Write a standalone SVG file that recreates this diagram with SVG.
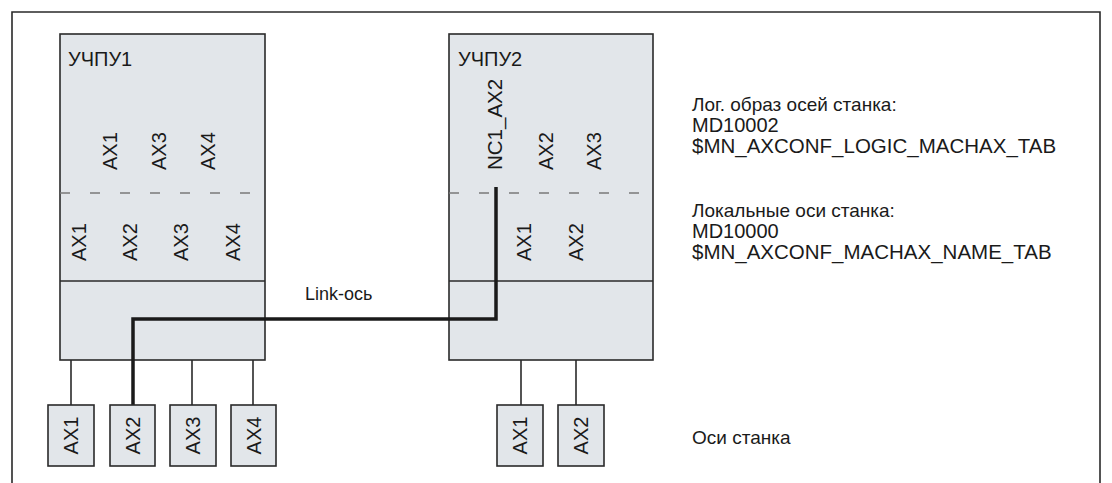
<svg xmlns="http://www.w3.org/2000/svg" width="1112" height="483" viewBox="0 0 1112 483">
<style>
text{font-family:"Liberation Sans",Arial,sans-serif;font-size:20px;fill:#1a1a1a}
.lat{font-size:20.5px}
.cyr{font-size:19px}
.box{fill:#e2e6ea;stroke:#2a2a2a;stroke-width:1.6}
.dash{stroke:#7a7a7a;stroke-width:1.5;stroke-dasharray:10 20;fill:none}
.thin{stroke:#2a2a2a;stroke-width:1.6;fill:none}
.thick{stroke:#1a1a1a;stroke-width:3.5;fill:none}
</style>
<rect width="1112" height="483" fill="#ffffff"/>
<path id="frame" d="M12,483 V12 H1100 V483" fill="none" stroke="#2a2a2a" stroke-width="1.6"/>

<g id="nc1">
<rect class="box" x="60" y="34" width="205" height="326"/>
<line class="thin" x1="60" y1="281" x2="265" y2="281"/>
<line class="dash" x1="60" y1="193" x2="265" y2="193"/>
<text x="68" y="66">УЧПУ1</text>
<text transform="translate(117,170) rotate(-90)">AX1</text>
<text transform="translate(166,170) rotate(-90)">AX3</text>
<text transform="translate(215,170) rotate(-90)">AX4</text>
<text transform="translate(86,261) rotate(-90)">AX1</text>
<text transform="translate(137,261) rotate(-90)">AX2</text>
<text transform="translate(188,261) rotate(-90)">AX3</text>
<text transform="translate(240,261) rotate(-90)">AX4</text>
</g>

<g id="nc2">
<rect class="box" x="449" y="34" width="204" height="326"/>
<line class="thin" x1="449" y1="281" x2="653" y2="281"/>
<line class="dash" x1="449" y1="193" x2="653" y2="193"/>
<text x="458" y="66">УЧПУ2</text>
<text class="lat" transform="translate(502,170) rotate(-90)">NC1_AX2</text>
<text transform="translate(553,170) rotate(-90)">AX2</text>
<text transform="translate(601,170) rotate(-90)">AX3</text>
<text transform="translate(531,261) rotate(-90)">AX1</text>
<text transform="translate(583,261) rotate(-90)">AX2</text>
</g>

<g id="connectors">
<line class="thin" x1="71" y1="360" x2="71" y2="405"/>
<line class="thin" x1="192" y1="360" x2="192" y2="405"/>
<line class="thin" x1="253" y1="360" x2="253" y2="405"/>
<line class="thin" x1="521" y1="360" x2="521" y2="405"/>
<line class="thin" x1="576" y1="360" x2="576" y2="405"/>
<path class="thick" d="M133,405 V319 H496 V187"/>
<text x="305" y="300" style="font-size:18px">Link-ось</text>
</g>

<g id="ax1-left"><rect class="box" x="48" y="405" width="46" height="61"/><text transform="translate(78,435.5) rotate(-90)" text-anchor="middle">AX1</text></g>
<g id="ax2-left"><rect class="box" x="110" y="405" width="45" height="61"/><text transform="translate(139.5,435.5) rotate(-90)" text-anchor="middle">AX2</text></g>
<g id="ax3-left"><rect class="box" x="170" y="405" width="46" height="61"/><text transform="translate(200,435.5) rotate(-90)" text-anchor="middle">AX3</text></g>
<g id="ax4-left"><rect class="box" x="231" y="405" width="45" height="61"/><text transform="translate(260.5,435.5) rotate(-90)" text-anchor="middle">AX4</text></g>
<g id="ax1-right"><rect class="box" x="497" y="405" width="46" height="61"/><text transform="translate(527,435.5) rotate(-90)" text-anchor="middle">AX1</text></g>
<g id="ax2-right"><rect class="box" x="558" y="405" width="46" height="61"/><text transform="translate(588,435.5) rotate(-90)" text-anchor="middle">AX2</text></g>

<g id="legend">
<text class="cyr" x="692" y="111">Лог. образ осей станка:</text>
<text x="692" y="132">MD10002</text>
<text class="lat" x="692" y="153">$MN_AXCONF_LOGIC_MACHAX_TAB</text>
<text class="cyr" x="692" y="217">Локальные оси станка:</text>
<text x="692" y="238">MD10000</text>
<text class="lat" x="692" y="259">$MN_AXCONF_MACHAX_NAME_TAB</text>
<text class="cyr" x="692" y="444">Оси станка</text>
</g>
</svg>
